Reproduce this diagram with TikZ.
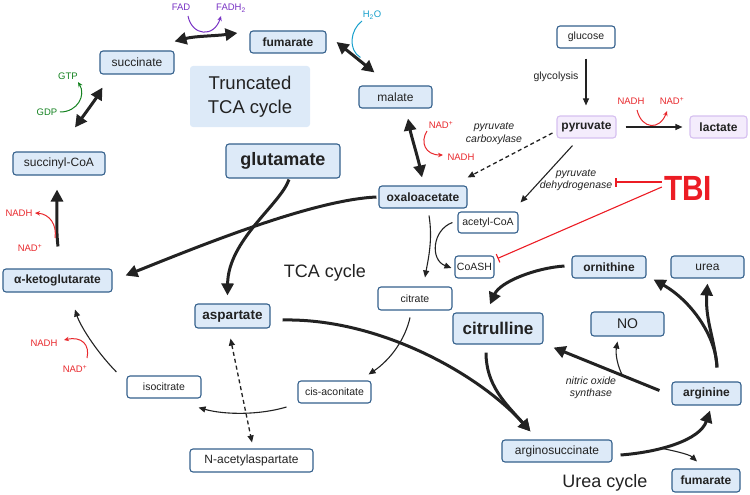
\documentclass[tikz,border=0pt]{standalone}
\usepackage{fontspec}
\setmainfont{Liberation Sans}
\usepackage{tikz}
\usetikzlibrary{calc,arrows.meta}

\definecolor{ink}{RGB}{34,34,34}
\definecolor{boxfill}{RGB}{221,234,248}
\definecolor{boxline}{RGB}{52,96,140}
\definecolor{lavfill}{RGB}{244,236,252}
\definecolor{lavline}{RGB}{214,192,240}
\definecolor{nadcol}{RGB}{232,40,44}
\definecolor{tbired}{RGB}{236,28,36}
\definecolor{fadcol}{RGB}{120,50,196}
\definecolor{gtpcol}{RGB}{20,130,32}
\definecolor{h2ocol}{RGB}{24,160,204}

\begin{document}
\begin{tikzpicture}[x=1pt,y=-1pt]
\tikzstyle{met}=[draw=boxline,fill=boxfill,rounded corners=3,line width=1.1,inner sep=0,text=ink,font=\fontsize{12}{14}\selectfont]
\tikzstyle{metb}=[met,font=\fontsize{12}{14}\selectfont\bfseries]
\tikzstyle{metw}=[met,fill=white,font=\fontsize{10.5}{12}\selectfont]
\tikzstyle{metp}=[met,fill=lavfill,draw=lavline,font=\fontsize{12}{14}\selectfont\bfseries]
\tikzstyle{bigarrow}=[-{Triangle[length=12pt,width=12pt]},line width=3,draw=ink]
\tikzstyle{dblarrow}=[{Triangle[length=12pt,width=12pt]}-{Triangle[length=12pt,width=12pt]},line width=3,draw=ink]
\tikzstyle{thinarrow}=[-{Triangle[length=7pt,width=6pt]},line width=1.1,draw=ink]
\tikzstyle{dasharrow}=[-{Triangle[length=7pt,width=6pt]},line width=1.3,draw=ink,dash pattern=on 4pt off 3pt]
\tikzstyle{sidearrow}=[-{Stealth[length=5pt,width=4.5pt]},line width=1]
\tikzstyle{inhibit}=[-{Bar[width=9pt]},line width=1.1,draw=tbired]
\tikzstyle{lbl}=[inner sep=0,font=\fontsize{9.5}{11}\selectfont]
\tikzstyle{enz}=[inner sep=0,align=center,text=ink,font=\fontsize{10.5}{12.5}\selectfont\itshape]

\useasboundingbox (0,0) rectangle (750,495);

% metabolites
\node[metb,minimum width=76,minimum height=22] (fumT) at (288,42) {fumarate};
\node[met,minimum width=74,minimum height=23] (succ) at (137,62.5) {succinate};
\node[fill=boxfill,rounded corners=3,minimum width=120,minimum height=61,align=center,text=ink,
      font=\fontsize{18.5}{24}\selectfont] (trunc) at (250,96.5) {Truncated\\TCA cycle};
\node[met,minimum width=92,minimum height=23] (sucCoA) at (59,163.5) {succinyl-CoA};
\node[metb,font=\fontsize{18}{20}\selectfont\bfseries,minimum width=114,minimum height=34] (glut) at (283,161) {glutamate};
\node[met,minimum width=73,minimum height=22] (mal) at (395.5,97) {malate};
\node[metw,minimum width=58,minimum height=22] (gluc) at (586,37) {glucose};
\node[metp,minimum width=59,minimum height=22] (pyr) at (586.5,127) {pyruvate};
\node[metp,minimum width=57,minimum height=22] (lact) at (718.5,127) {lactate};
\node[metb,minimum width=88,minimum height=22] (oxa) at (423,197) {oxaloacetate};
\node[metw,minimum width=60,minimum height=21] (acCoA) at (488,222.5) {acetyl-CoA};
\node[metw,minimum width=39,minimum height=22] (coash) at (474.5,267) {CoASH};
\node[metw,minimum width=74,minimum height=23] (citr) at (415,298.5) {citrate};
\node[metb,minimum width=74,minimum height=22] (orn) at (609,267) {ornithine};
\node[met,minimum width=73,minimum height=22] (urea) at (707.5,267) {urea};
\node[metb,font=\fontsize{17}{20}\selectfont\bfseries,minimum width=90,minimum height=31] (cit) at (498,328.5) {citrulline};
\node[met,font=\fontsize{14}{16}\selectfont,minimum width=73,minimum height=24] (no) at (627.5,324) {NO};
\node[metb,minimum width=69,minimum height=23] (arg) at (706.5,393.5) {arginine};
\node[met,minimum width=110,minimum height=22] (asuc) at (557,451) {arginosuccinate};
\node[metb,minimum width=68,minimum height=23] (fumB) at (706,480.5) {fumarate};
\node[metb,minimum width=109,minimum height=23] (akg) at (57.5,280.5) {α-ketoglutarate};
\node[metb,font=\fontsize{13.5}{16}\selectfont\bfseries,minimum width=75,minimum height=24] (asp) at (232.5,316) {aspartate};
\node[metw,minimum width=74,minimum height=22] (isoc) at (164,387) {isocitrate};
\node[metw,minimum width=73,minimum height=22] (cisac) at (334.5,392) {cis-aconitate};
\node[metw,font=\fontsize{12}{14}\selectfont,minimum width=123,minimum height=23] (nac) at (251.5,460.5) {N-acetylaspartate};

% titles and enzymes
\node[text=ink,font=\fontsize{18}{20}\selectfont] (tca) at (325,273) {TCA cycle};
\node[text=ink,font=\fontsize{18}{20}\selectfont] (ureacyc) at (605,483) {Urea cycle};
\node[inner sep=0,text=tbired,font=\fontsize{35}{35}\selectfont\bfseries] (tbi) at (688,188) {\scalebox{0.85}[1]{TBI}};
\node[inner sep=0,text=ink,font=\fontsize{10.5}{12}\selectfont] (glyco) at (556,77) {glycolysis};
\node[enz] (pc) at (494,133.5) {pyruvate\\carboxylase};
\node[enz] (pdh) at (576,180) {pyruvate\\dehydrogenase};
\node[enz,font=\fontsize{10.5}{12}\selectfont\itshape] (nos) at (591,388) {nitric oxide\\synthase};

% cofactors
\node[lbl,text=fadcol] (fad) at (181,7) {FAD};
\node[lbl,text=fadcol] (fadh) at (231,8) {FADH\textsubscript{2}};
\node[lbl,text=gtpcol] (gtp) at (68,76) {GTP};
\node[lbl,text=gtpcol] (gdp) at (47,112) {GDP};
\node[lbl,text=h2ocol] (h2o) at (372,15) {H\textsubscript{2}O};
\node[lbl,text=nadcol] (nadA) at (441,125) {NAD\textsuperscript{+}};
\node[lbl,text=nadcol] (nadhA) at (461,157) {NADH};
\node[lbl,text=nadcol] (nadhB) at (631,101) {NADH};
\node[lbl,text=nadcol] (nadB) at (672,101) {NAD\textsuperscript{+}};
\node[lbl,text=nadcol] (nadhC) at (19,213) {NADH};
\node[lbl,text=nadcol] (nadC) at (30,248) {NAD\textsuperscript{+}};
\node[lbl,text=nadcol] (nadhD) at (44,343) {NADH};
\node[lbl,text=nadcol] (nadD) at (75,369) {NAD\textsuperscript{+}};

% truncated TCA cycle
\draw[dblarrow] ($(succ.north east)+(0,-9)$) .. controls (195,36) and (215,36) .. ($(fumT.west)+(-12,-9)$);
\draw[dblarrow] ($(sucCoA.north)+(16,-24)$) .. controls (84,115) and (95,100) .. ($(succ.south west)+(3,13)$);
\draw[dblarrow] ($(fumT.east)+(10,0)$) -- ($(mal.north west)+(16,-13)$);
\draw[dblarrow] ($(mal.south)+(12.5,10)$) .. controls (411,135) and (418,158) .. ($(oxa.north)+(-1,-8)$);
\draw[bigarrow] ($(akg.north)+(0.5,-22)$) .. controls (56,230) and (57,210) .. ($(sucCoA.south)+(-2,14)$);
\draw[sidearrow,draw=fadcol] ($(fad)+(7,9)$) .. controls (192,36) and (214,38) .. ($(fadh)+(-10,8)$);
\draw[sidearrow,draw=gtpcol] ($(gdp)+(13,0)$) .. controls (78,112) and (86,95) .. ($(gtp)+(10,6)$);
\draw[line width=1,draw=h2ocol] ($(h2o)+(-10,6)$) .. controls (350,30) and (348,50) .. ($(mal.north west)+(2,-28)$);
\draw[sidearrow,draw=nadcol] ($(nadA)+(-14,6)$) .. controls (420,142) and (425,155) .. ($(nadhA)+(-18,-2)$);
\draw[sidearrow,draw=nadcol] ($(nadC)+(25,-10)$) .. controls (57,225) and (50,214) .. ($(nadhC)+(16,0)$);

% glycolysis
\draw[thinarrow] ($(gluc.south)+(0,10)$) -- ($(pyr.north)+(-0.5,-10)$);
\draw[thinarrow] ($(pyr.east)+(9,0)$) -- ($(lact.west)+(-7,0)$);
\draw[sidearrow,draw=nadcol] ($(nadhB)+(6,9)$) .. controls (642,130) and (660,130) .. ($(nadB)+(-5,10)$);
\draw[dasharrow] ($(pyr.west)+(-4,6)$) -- ($(oxa.north east)+(0,-8)$);
\draw[thinarrow] ($(pyr.south)+(-14,7)$) -- ($(acCoA.north east)+(2,-9)$);
\draw[inhibit] ($(tbi.west)+(-2,-6)$) -- ($(pdh.east)+(3,2)$);
\draw[inhibit] ($(tbi.west)+(-2,-1)$) -- ($(coash.north east)+(3,3)$);

% TCA cycle
\draw[thinarrow] ($(oxa.south)+(6,7)$) .. controls (433,240) and (428,260) .. ($(citr.north)+(10,-9)$);
\draw[thinarrow] ($(acCoA.west)+(-5,0)$) .. controls (432,230) and (430,260) .. ($(coash.west)+(-3,1)$);
\draw[thinarrow] ($(citr.south)+(-5,7)$) .. controls (405,340) and (390,360) .. ($(cisac.north east)+(-3,-6)$);
\draw[thinarrow] ($(cisac.west)+(-11,15)$) .. controls (260,415) and (225,415) .. ($(isoc.south east)+(-3,9)$);
\draw[thinarrow] ($(isoc.west)+(-10,-15)$) .. controls (95,350) and (80,325) .. ($(akg.south)+(17.5,17)$);
\draw[sidearrow,draw=nadcol] ($(nadD)+(12,-11)$) .. controls (90,345) and (82,336) .. ($(nadhD)+(20,-3)$);
\draw[bigarrow] ($(oxa.west)+(-2,0)$) .. controls (310,200) and (190,250) .. ($(akg.east)+(13,-5)$);
\draw[bigarrow] ($(glut.south)+(6,1)$) .. controls (280,205) and (228,240) .. ($(asp.north)+(-5,-8)$);
\draw[{Triangle[length=7pt,width=6pt]}-{Triangle[length=7pt,width=6pt]},line width=1.3,draw=ink,dash pattern=on 4pt off 3pt]
  ($(asp.south)+(-2,10)$) -- ($(nac.north)+(0.5,-6)$);

% urea cycle
\draw[bigarrow] ($(asp.east)+(12,4)$) .. controls (380,318) and (480,375) .. ($(asuc.north west)+(29,-8)$);
\draw[bigarrow] ($(cit.south)+(-12,8)$) .. controls (486,385) and (505,403) .. ($(asuc.north west)+(29,-8)$);
\draw[bigarrow] ($(asuc.east)+(8,4)$) .. controls (660,452) and (700,440) .. coordinate[pos=0.35] (fumbr) ($(arg.south)+(3.5,5)$);
\draw[thinarrow] (fumbr) .. controls (680,452) and (690,455) .. ($(fumB.north)+(-9,-7)$);
\draw[bigarrow] ($(arg.north)+(10.5,-14)$) .. controls (716,335) and (690,300) .. ($(orn.south east)+(7,1)$);
\draw[bigarrow] ($(arg.north)+(10.5,-14)$) .. controls (715,340) and (705,320) .. ($(urea.south)+(0,5)$);
\draw[bigarrow] ($(orn.west)+(-7,-1)$) .. controls (535,268) and (500,282) .. ($(cit.north)+(-8,-8)$);
\draw[bigarrow] ($(arg.west)+(-12,-3)$) -- coordinate[pos=0.35] (nosbr) ($(cit.south east)+(10,3)$);
\draw[thinarrow] (nosbr) .. controls (615,360) and (616,350) .. ($(no.south)+(-10,5)$);
\end{tikzpicture}
\end{document}
